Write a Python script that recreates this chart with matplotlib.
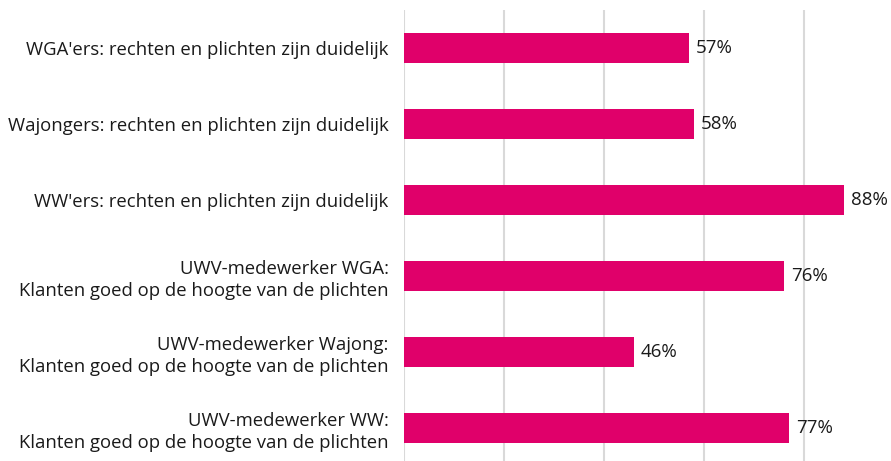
import matplotlib
matplotlib.use("Agg")
import matplotlib.pyplot as plt

plt.rcParams['font.family'] = ['Open Sans', 'DejaVu Sans']

categories = [
    "WGA'ers: rechten en plichten zijn duidelijk",
    "Wajongers: rechten en plichten zijn duidelijk",
    "WW'ers: rechten en plichten zijn duidelijk",
    "UWV-medewerker WGA:\nKlanten goed op de hoogte van de plichten",
    "UWV-medewerker Wajong:\nKlanten goed op de hoogte van de plichten",
    "UWV-medewerker WW:\nKlanten goed op de hoogte van de plichten",
]
values = [57, 58, 88, 76, 46, 77]
xticks = [0, 20, 40, 60, 80, 100]

bar_color = '#e0006a'
text_color = '#1a1a1a'

fig = plt.figure(figsize=(8.91, 4.61), dpi=100)
ax = fig.add_axes([404 / 891, -5 / 461, 487 / 891, 456 / 461])

pos = list(range(len(categories)))
ax.barh(pos, values, height=0.4, color=bar_color, zorder=3)
for p, v in zip(pos, values):
    ax.text(v + 1.4, p, f"{v}%", va='center', ha='left',
            fontsize=13.5, color=text_color)

ax.set_xticks(xticks)
ax.set_xticklabels([])
ax.set_xlim(0, 487 / 5)
ax.set_ylim(len(categories) - 0.5, -0.5)
ax.set_yticks(pos)
ax.set_yticklabels(categories, fontsize=13.3, color=text_color, linespacing=1.3)
ax.tick_params(axis='both', length=0, pad=11)
ax.grid(axis='x', color='#d9d9d9', linewidth=1.5, zorder=0)
for s in ax.spines.values():
    s.set_visible(False)

plt.savefig('out.png', dpi=100)
